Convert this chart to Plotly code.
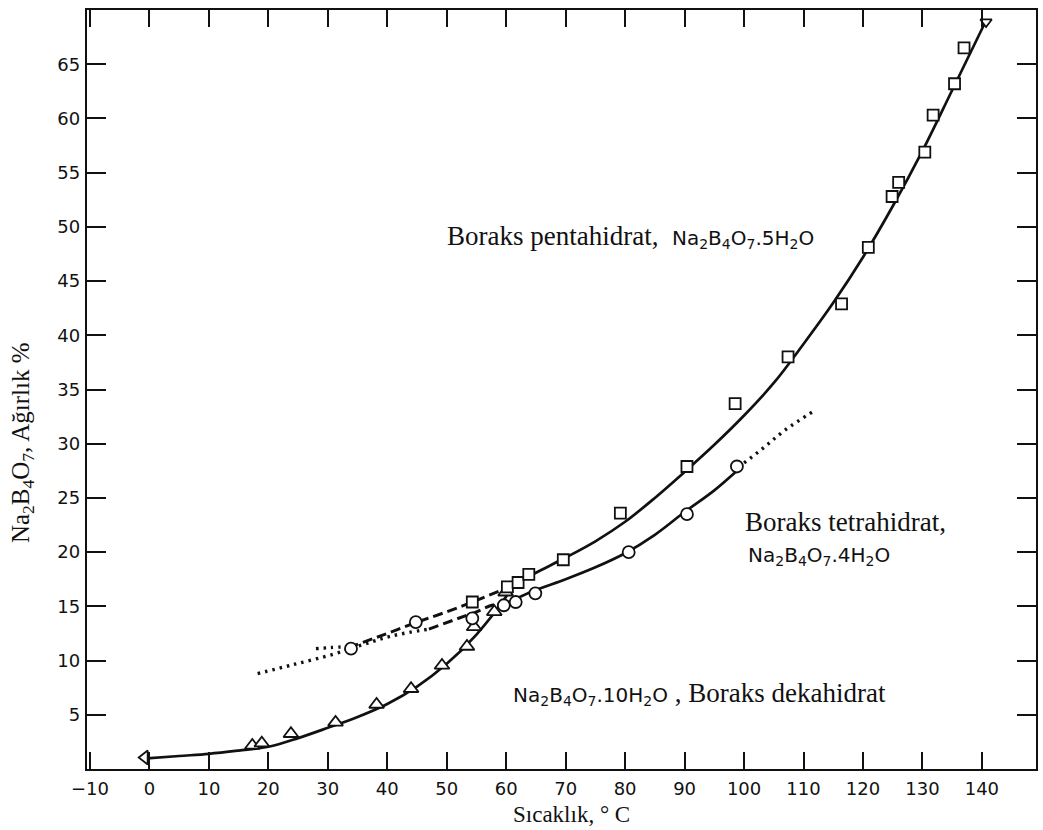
import plotly.graph_objects as go

# ---------------- data ----------------
# Boraks dekahidrat (triangles + solid curve)
deka_pts_x = [17.3, 18.9, 23.8, 31.3, 38.2, 44.0, 49.2, 53.4, 54.6, 58.0, 59.9]
deka_pts_y = [2.17, 2.38, 3.25, 4.3, 5.95, 7.4, 9.55, 11.3, 13.1, 14.5, 16.3]
deka_start_x = [-0.8]
deka_start_y = [1.06]
deka_curve_x = [-1, 5, 10, 15, 20, 25, 30, 35, 40, 45, 50, 55, 60, 61]
deka_curve_y = [0.95, 1.2, 1.4, 1.7, 2.05, 2.85, 3.8, 4.8, 6.0, 7.6, 9.7, 12.4, 15.9, 16.8]

# Boraks pentahidrat (squares + solid curve)
penta_pts_x = [54.3, 60.2, 62.0, 63.8, 69.6, 79.2, 90.4, 98.5, 107.4, 116.4, 120.9,
               124.9, 126.0, 130.4, 131.8, 135.4, 137.0]
penta_pts_y = [15.4, 16.8, 17.2, 17.95, 19.3, 23.6, 27.9, 33.7, 38.0, 42.9, 48.1,
               52.8, 54.1, 56.9, 60.3, 63.2, 66.5]
penta_end_x = [140.7]
penta_end_y = [68.9]
penta_curve_x = [60.5, 65, 70, 75, 80, 85, 90, 95, 100, 105, 110, 115, 120, 125, 130, 135, 140.5]
penta_curve_y = [16.8, 18.1, 19.5, 21.0, 22.8, 25.0, 27.4, 29.9, 32.6, 35.6, 39.2, 43.0,
                 47.2, 51.9, 57.0, 62.6, 68.8]
# metastable extension of pentahydrate
penta_dot_x = [28.0, 30.5, 33.5]
penta_dot_y = [11.1, 11.2, 11.3]
penta_dash_x = [33.5, 39, 44.8, 50, 54.3, 58.8, 60.5]
penta_dash_y = [11.2, 12.3, 13.5, 14.5, 15.4, 16.4, 16.8]

# Boraks tetrahidrat (circles + solid curve)
tetra_pts_x = [33.9, 44.8, 54.3, 59.6, 61.6, 64.9, 80.6, 90.4, 98.8]
tetra_pts_y = [11.1, 13.55, 13.9, 15.1, 15.4, 16.2, 20.0, 23.5, 27.9]
tetra_curve_x = [59, 62, 65, 70, 75, 80, 85, 90, 95, 99]
tetra_curve_y = [15.0, 15.8, 16.5, 17.5, 18.6, 19.9, 21.6, 23.7, 25.7, 27.6]
tetra_ext_x = [99, 103, 107, 112]
tetra_ext_y = [27.8, 29.5, 31.3, 33.1]
tetra_dot_x = [18.2, 24, 31, 36, 41, 47]
tetra_dot_y = [8.8, 9.6, 10.6, 11.5, 12.3, 12.9]
tetra_dash_x = [47, 52, 55, 57.6, 59.6]
tetra_dash_y = [12.9, 13.9, 14.5, 15.1, 15.3]

x_ticks = [-10, 0, 10, 20, 30, 40, 50, 60, 70, 80, 90, 100, 110, 120, 130, 140]
x_ticktext = ["\u221210", "0", "10", "20", "30", "40", "50", "60", "70", "80", "90",
              "100", "110", "120", "130", "140"]
y_ticks = [5, 10, 15, 20, 25, 30, 35, 40, 45, 50, 55, 60, 65]

# ---------------- figure ----------------
fig = go.Figure()
BLACK = "#111111"


def line(x, y, dash="solid", width=2.7):
    fig.add_trace(go.Scatter(x=x, y=y, mode="lines",
                             line=dict(color=BLACK, width=width, dash=dash, shape="spline",
                                       smoothing=1.0),
                             hoverinfo="skip", showlegend=False))


def pts(x, y, symbol, size=11):
    fig.add_trace(go.Scatter(x=x, y=y, mode="markers",
                             marker=dict(symbol=symbol, size=size, color="white",
                                         line=dict(color=BLACK, width=1.8)),
                             showlegend=False))


# curves
line(deka_curve_x, deka_curve_y)
line(penta_curve_x, penta_curve_y)
line(tetra_curve_x, tetra_curve_y)
line(tetra_ext_x, tetra_ext_y, dash="2.5px,5px", width=3.4)
line(penta_dot_x, penta_dot_y, dash="2.5px,5px", width=3.4)
line(tetra_dot_x, tetra_dot_y, dash="2.5px,5px", width=3.4)
line(penta_dash_x, penta_dash_y, dash="10px,5px", width=3.0)
line(tetra_dash_x, tetra_dash_y, dash="10px,5px", width=3.0)

# markers
pts(deka_pts_x, deka_pts_y, "triangle-up", 13)
pts(deka_start_x, deka_start_y, "triangle-left", 12)
pts(penta_pts_x, penta_pts_y, "square", 11)
pts(penta_end_x, penta_end_y, "triangle-down", 10)
pts(tetra_pts_x, tetra_pts_y, "circle", 12)

serif = "Liberation Serif, Times New Roman, serif"
sans = "DejaVu Sans, Liberation Sans, sans-serif"

fig.update_layout(
    width=1043, height=830,
    margin=dict(l=87, r=5, t=10, b=61),
    paper_bgcolor="white", plot_bgcolor="white",
    showlegend=False,
    font=dict(family=sans, color=BLACK, size=18),
    xaxis=dict(range=[-10.5, 149.1], tickvals=x_ticks, ticktext=x_ticktext,
               ticks="inside", ticklen=17, tickwidth=1.6, tickcolor=BLACK,
               showline=True, linecolor=BLACK, linewidth=2.4, mirror="ticks",
               showgrid=False, zeroline=False, ticklabelstandoff=2,
               tickfont=dict(family=sans, size=18, color=BLACK)),
    yaxis=dict(range=[0, 70], tickvals=y_ticks,
               ticks="inside", ticklen=19, tickwidth=1.6, tickcolor=BLACK,
               showline=True, linecolor=BLACK, linewidth=2.4, mirror="ticks",
               showgrid=False, zeroline=False, ticklabelstandoff=1,
               tickfont=dict(family=sans, size=18, color=BLACK)),
)

F = 'font-family:DejaVu Sans, Liberation Sans, sans-serif;font-size:20px;'
sp_sans = '<span style="' + F + '">'
annots = [
    dict(x=49.7, y=49.1,
         text='Boraks pentahidrat,  ' + sp_sans + 'Na<sub>2</sub>B<sub>4</sub>O<sub>7</sub>.5H<sub>2</sub>O</span>'),
    dict(x=99.9, y=22.8, text='Boraks tetrahidrat,'),
    dict(x=100.4, y=19.6,
         text=sp_sans + 'Na<sub>2</sub>B<sub>4</sub>O<sub>7</sub>.4H<sub>2</sub>O</span>'),
    dict(x=60.8, y=7.0,
         text=sp_sans + 'Na<sub>2</sub>B<sub>4</sub>O<sub>7</sub>.10H<sub>2</sub>O</span> , Boraks dekahidrat'),
]
for a in annots:
    fig.add_annotation(xref="x", yref="y", showarrow=False, xanchor="left", yanchor="middle",
                       font=dict(family=serif, size=27, color=BLACK), **a)

# axis titles
fig.add_annotation(xref="paper", yref="paper", x=-0.068, y=0.43, xanchor="center",
                   yanchor="middle", textangle=-90, showarrow=False,
                   text="Na<sub>2</sub>B<sub>4</sub>O<sub>7</sub>, Ağırlık %",
                   font=dict(family=serif, size=25, color=BLACK))
fig.add_annotation(xref="paper", yref="paper", x=0.511, y=-0.060, xanchor="center",
                   yanchor="middle", showarrow=False,
                   text="Sıcaklık, ° C",
                   font=dict(family=serif, size=23, color=BLACK))

fig.write_html("out.html", config={"displayModeBar": False},
               post_script="document.body.style.margin='0';document.body.style.overflow='hidden';")
